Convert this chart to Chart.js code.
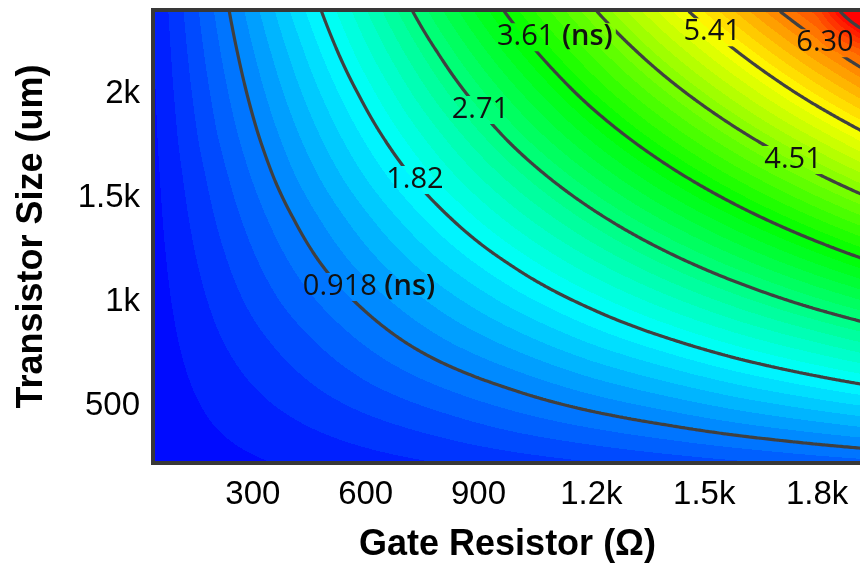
<!DOCTYPE html>
<html>
<head>
<meta charset="utf-8">
<script src="https://cdn.jsdelivr.net/npm/chart.js@4/dist/chart.umd.min.js"></script>
<style>
html,body{margin:0;padding:0;background:#ffffff;}
canvas{display:block;}
</style>
</head>
<body>
<canvas id="c" width="860" height="567"></canvas>
<script>
// ---------- data ----------
// grid nodes
const gateResistor = [0, 200, 400, 600, 800, 1000, 1200, 1400, 1600, 1800, 2000];      // Ω
const transistorSize = [200, 400, 600, 800, 1000, 1200, 1400, 1600, 1800, 2000, 2200, 2400]; // um
// delay (ns) at each node, one row per transistor size, columns follow gateResistor
const delayW200  = [0.04, 0.11, 0.17, 0.23, 0.29, 0.35, 0.41, 0.47, 0.53, 0.60, 0.66];
const delayW400  = [0.04, 0.17, 0.29, 0.41, 0.53, 0.66, 0.78, 0.90, 1.03, 1.15, 1.27];
const delayW600  = [0.04, 0.23, 0.41, 0.60, 0.78, 0.96, 1.15, 1.33, 1.52, 1.70, 1.88];
const delayW800  = [0.04, 0.29, 0.53, 0.78, 1.03, 1.27, 1.52, 1.76, 2.01, 2.25, 2.50];
const delayW1000 = [0.04, 0.35, 0.66, 0.96, 1.27, 1.58, 1.88, 2.19, 2.50, 2.81, 3.11];
const delayW1200 = [0.04, 0.41, 0.78, 1.15, 1.52, 1.88, 2.25, 2.62, 2.99, 3.36, 3.73];
const delayW1400 = [0.04, 0.47, 0.90, 1.33, 1.76, 2.19, 2.62, 3.05, 3.48, 3.91, 4.34];
const delayW1600 = [0.04, 0.53, 1.03, 1.52, 2.01, 2.50, 2.99, 3.48, 3.97, 4.46, 4.95];
const delayW1800 = [0.04, 0.60, 1.15, 1.70, 2.25, 2.81, 3.36, 3.91, 4.46, 5.01, 5.57];
const delayW2000 = [0.04, 0.66, 1.27, 1.88, 2.50, 3.11, 3.73, 4.34, 4.95, 5.57, 6.18];
const delayW2200 = [0.04, 0.72, 1.39, 2.07, 2.74, 3.42, 4.09, 4.77, 5.44, 6.12, 6.79];
const delayW2400 = [0.04, 0.78, 1.52, 2.25, 2.99, 3.73, 4.46, 5.20, 5.93, 6.67, 8.43];

// contour levels and their labels
const contourLevels = [0.918, 1.82, 2.71, 3.61, 4.51, 5.41, 6.30, 7.20];
const contourLabelText = ['0.918', '1.82', '2.71', '3.61', '4.51', '5.41', '6.30'];
const contourLabelUnit = ['(ns)', '', '', '(ns)', '', '', ''];
const contourLabelR = [609, 731, 905, 1103, 1736, 1521, 1821];
const contourLabelW = [1072, 1587, 1923, 2274, 1683, 2298, 2245];

// filled bands
const fillMin = 0.02, fillMax = 7.2, fillBands = 48;

// ticks
const xTickValues = [300, 600, 900, 1200, 1500, 1800];
const xTickLabels = ['300', '600', '900', '1.2k', '1.5k', '1.8k'];
const yTickValues = [500, 1000, 1500, 2000];
const yTickLabels = ['500', '1k', '1.5k', '2k'];

// ---------- helpers ----------
const delayTable = [delayW200, delayW400, delayW600, delayW800, delayW1000, delayW1200,
  delayW1400, delayW1600, delayW1800, delayW2000, delayW2200, delayW2400];

function findCell(arr, v) {
  let k = 0;
  while (k < arr.length - 2 && v > arr[k + 1]) k++;
  return k;
}
function clamp01(v) { return v < 0 ? 0 : (v > 1 ? 1 : v); }
function fieldAt(R, W) {
  const i = findCell(gateResistor, R), j = findCell(transistorSize, W);
  const s = clamp01((R - gateResistor[i]) / (gateResistor[i + 1] - gateResistor[i]));
  const t = clamp01((W - transistorSize[j]) / (transistorSize[j + 1] - transistorSize[j]));
  const v00 = delayTable[j][i], v10 = delayTable[j][i + 1];
  const v01 = delayTable[j + 1][i], v11 = delayTable[j + 1][i + 1];
  return (1 - s) * (1 - t) * v00 + s * (1 - t) * v10 + (1 - s) * t * v01 + s * t * v11;
}
function rainbow(t) {
  t = clamp01(t);
  if (t < 0.25) return [0, Math.round(1020 * t), 255];
  if (t < 0.5) return [0, 255, Math.round(255 - 1020 * (t - 0.25))];
  if (t < 0.75) return [Math.round(1020 * (t - 0.5)), 255, 0];
  return [255, Math.round(255 - 1020 * (t - 0.75)), 0];
}

const LABEL_FONT = '29px "Open Sans", "Noto Sans", sans-serif';
const LABEL_FONT_BOLD = '600 29px "Open Sans", "Noto Sans", sans-serif';

const contourPlugin = {
  id: 'contour',
  beforeDatasetsDraw(chart) {
    const ctx = chart.ctx;
    const xs = chart.scales.x, ys = chart.scales.y;
    const ca = chart.chartArea;
    const left = Math.round(ca.left), top = Math.round(ca.top);
    const w = Math.round(ca.right) - left, h = Math.round(ca.bottom) - top;
    const img = ctx.createImageData(w, h);
    const Rs = new Array(w), Ws = new Array(h);
    for (let x = 0; x < w; x++) Rs[x] = xs.getValueForPixel(left + x + 0.5);
    for (let y = 0; y < h; y++) Ws[y] = ys.getValueForPixel(top + y + 0.5);
    const step = (fillMax - fillMin) / fillBands;
    const bandColors = [];
    for (let b = 0; b < fillBands; b++) bandColors.push(rainbow((b + 0.5) / fillBands));
    const over = [255, 0, 0];
    let p = 0;
    for (let y = 0; y < h; y++) {
      for (let x = 0; x < w; x++) {
        const v = fieldAt(Rs[x], Ws[y]);
        let b = Math.floor((v - fillMin) / step);
        let c;
        if (b >= fillBands) c = over; else c = bandColors[Math.max(0, b)];
        img.data[p++] = c[0]; img.data[p++] = c[1]; img.data[p++] = c[2]; img.data[p++] = 255;
      }
    }
    ctx.putImageData(img, left, top);
  },
  afterDatasetsDraw(chart) {
    const ctx = chart.ctx;
    const xs = chart.scales.x, ys = chart.scales.y;
    const ca = chart.chartArea;
    // label geometry
    const labels = [];
    for (let k = 0; k < contourLabelText.length; k++) {
      ctx.font = LABEL_FONT;
      const w1 = ctx.measureText(contourLabelText[k]).width;
      let w2 = 0, sp = 0;
      if (contourLabelUnit[k]) {
        sp = ctx.measureText(' ').width;
        ctx.font = LABEL_FONT_BOLD;
        w2 = ctx.measureText(contourLabelUnit[k]).width;
      }
      const cx = xs.getPixelForValue(contourLabelR[k]);
      const cy = ys.getPixelForValue(contourLabelW[k]);
      labels.push({k, cx, cy, w1, w2, sp, tw: w1 + sp + w2});
    }
    // sample field
    const st = 2;
    const nx = Math.ceil((ca.right - ca.left) / st) + 1;
    const ny = Math.ceil((ca.bottom - ca.top) / st) + 1;
    const px = [], py = [], val = [];
    for (let i = 0; i < nx; i++) px.push(Math.min(ca.left + i * st, ca.right));
    for (let j = 0; j < ny; j++) py.push(Math.min(ca.top + j * st, ca.bottom));
    const Rs = px.map(v => xs.getValueForPixel(v));
    const Ws = py.map(v => ys.getValueForPixel(v));
    for (let j = 0; j < ny; j++) {
      const row = [];
      for (let i = 0; i < nx; i++) row.push(fieldAt(Rs[i], Ws[j]));
      val.push(row);
    }
    ctx.save();
    ctx.beginPath();
    ctx.rect(ca.left, ca.top, ca.right - ca.left, ca.bottom - ca.top);
    labels.forEach(l => {
      ctx.rect(l.cx - l.tw / 2 - 3, l.cy - 14, l.tw + 6, 28);
    });
    ctx.clip('evenodd');
    ctx.strokeStyle = '#404040';
    ctx.lineWidth = 3.2;
    ctx.lineCap = 'round';
    ctx.lineJoin = 'round';
    contourLevels.forEach(L => {
      ctx.beginPath();
      for (let j = 0; j < ny - 1; j++) {
        for (let i = 0; i < nx - 1; i++) {
          const a = val[j][i], b = val[j][i + 1], c = val[j + 1][i + 1], d = val[j + 1][i];
          const pts = [];
          const edge = (v1, v2, x1, y1, x2, y2) => {
            if ((v1 < L) !== (v2 < L)) {
              const t = (L - v1) / (v2 - v1);
              pts.push([x1 + t * (x2 - x1), y1 + t * (y2 - y1)]);
            }
          };
          edge(a, b, px[i], py[j], px[i + 1], py[j]);
          edge(b, c, px[i + 1], py[j], px[i + 1], py[j + 1]);
          edge(d, c, px[i], py[j + 1], px[i + 1], py[j + 1]);
          edge(a, d, px[i], py[j], px[i], py[j + 1]);
          if (pts.length >= 2) { ctx.moveTo(pts[0][0], pts[0][1]); ctx.lineTo(pts[1][0], pts[1][1]); }
          if (pts.length === 4) { ctx.moveTo(pts[2][0], pts[2][1]); ctx.lineTo(pts[3][0], pts[3][1]); }
        }
      }
      ctx.stroke();
    });
    ctx.restore();
    // labels
    ctx.save();
    ctx.fillStyle = '#111111';
    ctx.textBaseline = 'middle';
    ctx.textAlign = 'left';
    labels.forEach(l => {
      const x0 = l.cx - l.tw / 2;
      ctx.font = LABEL_FONT;
      ctx.fillText(contourLabelText[l.k], x0, l.cy);
      if (contourLabelUnit[l.k]) {
        ctx.font = LABEL_FONT_BOLD;
        ctx.fillText(contourLabelUnit[l.k], x0 + l.w1 + l.sp, l.cy);
      }
    });
    ctx.restore();
    // frame
    ctx.save();
    ctx.strokeStyle = '#383838';
    ctx.lineWidth = 4;
    ctx.strokeRect(ca.left - 2, ca.top - 2, ca.right - ca.left + 12, ca.bottom - ca.top + 4);
    ctx.restore();
  }
};

const nodePoints = [];
transistorSize.forEach((W, j) => gateResistor.forEach((R, i) => nodePoints.push({x: R, y: W, v: delayTable[j][i]})));

new Chart(document.getElementById('c'), {
  type: 'scatter',
  data: { datasets: [{ data: nodePoints, pointRadius: 0, pointHoverRadius: 0, showLine: false }] },
  options: {
    responsive: false,
    devicePixelRatio: 1,
    animation: false,
    events: [],
    layout: { padding: { top: 12, right: 0, left: 0, bottom: 0 } },
    plugins: { legend: { display: false }, tooltip: { enabled: false } },
    scales: {
      x: {
        type: 'linear', min: 40, max: 1914,
        grid: { display: false, drawTicks: false },
        border: { display: false },
        afterBuildTicks: s => { s.ticks = xTickValues.map(v => ({ value: v })); },
        afterFit: s => { s.height = 106; s.paddingLeft = 0; s.paddingRight = 0; },
        ticks: {
          padding: 14, color: '#000',
          font: { family: '"Liberation Sans", Arial, sans-serif', size: 33 },
          callback: v => xTickLabels[xTickValues.indexOf(v)]
        },
        title: {
          display: true, text: 'Gate Resistor (Ω)', color: '#000',
          font: { family: '"Liberation Sans", Arial, sans-serif', size: 36, weight: 'bold' },
          padding: { top: 0, bottom: 0 }
        }
      },
      y: {
        type: 'linear', min: 235, max: 2395,
        grid: { display: false, drawTicks: false },
        border: { display: false },
        afterBuildTicks: s => { s.ticks = yTickValues.map(v => ({ value: v })); },
        afterFit: s => { s.width = 155; s.paddingTop = 0; s.paddingBottom = 0; },
        ticks: {
          padding: 15, color: '#000',
          font: { family: '"Liberation Sans", Arial, sans-serif', size: 33 },
          callback: v => yTickLabels[yTickValues.indexOf(v)]
        },
        title: {
          display: true, text: 'Transistor Size (um)', color: '#000',
          font: { family: '"Liberation Sans", Arial, sans-serif', size: 36, weight: 'bold' },
          padding: { top: 10, bottom: 0 }
        }
      }
    }
  },
  plugins: [contourPlugin]
});
</script>
</body>
</html>
